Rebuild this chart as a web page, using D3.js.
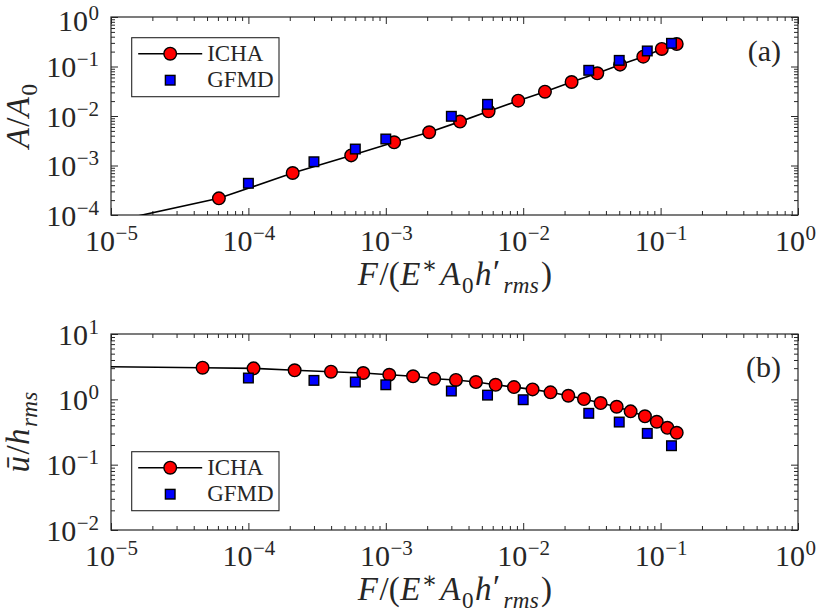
<!DOCTYPE html>
<html lang="en">
<head>
<meta charset="UTF-8">
<title>ICHA vs GFMD</title>
<script src="https://d3js.org/d3.v7.min.js"></script>
<style>
  body { margin: 0; background: #fff; }
  svg { display: block; }
</style>
</head>
<body>
<div id="chart"></div>
<script>
// panel (a): contact area vs load
const areaIchaF = [5e-6, 6.1e-5, 2.1e-4, 5.6e-4, 1.15e-3, 2.07e-3, 3.47e-3, 5.6e-3, 9.2e-3, 0.0144, 0.0225, 0.0346, 0.0507, 0.0748, 0.102, 0.131]
const areaIchaA = [4.8e-5, 2.17e-4, 7.05e-4, 1.6e-3, 2.94e-3, 4.7e-3, 7.7e-3, 0.01245, 0.0204, 0.031, 0.0486, 0.0729, 0.109, 0.158, 0.226, 0.285]
const areaGfmdF = [1e-4, 3e-4, 6e-4, 1e-3, 3e-3, 5.5e-3, 0.03, 0.05, 0.08, 0.12]
const areaGfmdA = [4.37e-4, 1.19e-3, 2.15e-3, 3.43e-3, 9.86e-3, 0.0172, 0.0838, 0.133, 0.206, 0.294]

// panel (b): mean gap vs load
const dispIchaF = [5e-6, 4.64e-5, 1.09e-4, 2.17e-4, 3.99e-4, 6.85e-4, 1.06e-3, 1.58e-3, 2.25e-3, 3.24e-3, 4.53e-3, 6.3e-3, 8.57e-3, 0.0117, 0.0158, 0.0213, 0.0277, 0.0366, 0.0479, 0.0605, 0.0769, 0.0938, 0.112, 0.131]
const dispIchaU = [3.2, 3.05, 2.98, 2.78, 2.65, 2.53, 2.38, 2.25, 2.07, 1.98, 1.84, 1.67, 1.54, 1.42, 1.28, 1.135, 1.01, 0.878, 0.77, 0.655, 0.55, 0.454, 0.367, 0.308]
const dispGfmdF = [1e-4, 3e-4, 6e-4, 1e-3, 3e-3, 5.5e-3, 0.01, 0.03, 0.05, 0.08, 0.12]
const dispGfmdU = [2.12, 1.95, 1.84, 1.67, 1.34, 1.16, 0.986, 0.611, 0.449, 0.301, 0.195]

const xTickVals = [1e-5, 1e-4, 1e-3, 1e-2, 1e-1, 1]
const areaTickVals = [1e-4, 1e-3, 1e-2, 1e-1, 1]
const dispTickVals = [1e-2, 1e-1, 1, 10]
const legendNames = ["ICHA", "GFMD"]

const width = 817, height = 615
const axisColor = "#262626"
const serif = "'Liberation Serif', 'DejaVu Serif', serif"

const svg = d3.select("#chart").append("svg")
  .attr("width", width)
  .attr("height", height)
  .attr("font-family", serif)

// minor ticks 2..9 of every decade in the domain
function minorTicks(domain) {
  let out = []
  let lo = Math.round(Math.log10(domain[0])), hi = Math.round(Math.log10(domain[1]))
  for (let e = lo; e < hi; e++)
    for (let m = 2; m <= 9; m++) out.push(m * Math.pow(10, e))
  return out
}

function expText(v) {
  let e = Math.round(Math.log10(v))
  return e < 0 ? "\u2212" + (-e) : "" + e
}

// writes a math-like label as tspans; parts: {t, i(talic), s(hift)}
function mathLabel(text, parts, size) {
  let cur = 0
  parts.forEach(p => {
    let shift = p.s === "sup" ? -0.36 * size : p.s === "sub" ? 0.24 * size : 0
    if (p.s === "prime") shift = -0.05 * size
    let small = p.s && p.s !== "prime"
    text.append("tspan")
      .attr("dy", shift - cur)
      .attr("dx", p.gap || 0)
      .attr("font-family", serif)
      .attr("font-size", small ? size * 0.7 : size)
      .attr("font-style", p.i ? "italic" : "normal")
      .attr("letter-spacing", p.i && !small ? 1.5 : 0.3)
      .text(p.t)
    cur = shift
  })
}

function drawPanel(o) {
  const x = d3.scaleLog().domain([1e-5, 1]).range([o.left, o.right])
  const y = d3.scaleLog().domain(o.yDomain).range([o.bottom, o.top])
  const g = svg.append("g")

  const clipId = "clip" + o.id
  g.append("clipPath").attr("id", clipId).append("rect")
    .attr("x", o.left).attr("y", o.top)
    .attr("width", o.right - o.left).attr("height", o.bottom - o.top)

  // ticks on all four sides, pointing in
  const sides = [
    [d3.axisBottom(x), o.bottom, "x", xTickVals],
    [d3.axisTop(x), o.top, "x", xTickVals],
    [d3.axisLeft(y), o.left, "y", o.yTicks],
    [d3.axisRight(y), o.right, "y", o.yTicks]
  ]
  sides.forEach(([ax, pos, dim, vals], k) => {
    let tr = dim === "x" ? "translate(0," + pos + ")" : "translate(" + pos + ",0)"
    let scale = dim === "x" ? x : y
    g.append("g").attr("transform", tr)
      .call(ax.tickValues(minorTicks(scale.domain())).tickSizeInner(-4).tickSizeOuter(0).tickFormat(""))
      .call(s => s.select(".domain").remove())
    let major = g.append("g").attr("transform", tr)
      .call(ax.tickValues(vals).tickSizeInner(-7).tickSizeOuter(0).tickFormat(""))
      .call(s => s.select(".domain").remove())
      .attr("font-family", serif)
    if (k === 0 || k === 2) {
      major.selectAll(".tick text").each(function (d) {
        let t = d3.select(this).text(null).attr("dy", null)
          .attr("font-family", serif).attr("font-size", 30).attr("fill", axisColor)
        if (k === 0) t.attr("y", 36).attr("text-anchor", "middle")
        else t.attr("x", -12).attr("y", 10).attr("text-anchor", "end")
        t.append("tspan").text("10")
        t.append("tspan").attr("dy", -11).attr("dx", 0.5).attr("font-size", 21).text(expText(d))
        // keep the last label inside the page like the reference
        let b = this.getBBox(), m = this.parentNode.getCTM()
        let over = m.e + b.x + b.width - (width - 1)
        if (over > 0) t.attr("x", -over)
        let top = m.f + b.y
        if (top < 1) t.attr("y", 10 + (1 - top))
      })
    }
  })
  g.selectAll(".tick line").attr("stroke", axisColor)

  g.append("rect")
    .attr("x", o.left).attr("y", o.top)
    .attr("width", o.right - o.left).attr("height", o.bottom - o.top)
    .attr("fill", "none").attr("stroke", axisColor).attr("stroke-width", 1.2)

  // data
  const plot = g.append("g").attr("clip-path", "url(#" + clipId + ")")
  const icha = d3.zip(o.ichaX, o.ichaY)
  const gfmd = d3.zip(o.gfmdX, o.gfmdY)
  plot.append("path")
    .datum(icha)
    .attr("d", d3.line().x(d => x(d[0])).y(d => y(d[1])))
    .attr("fill", "none").attr("stroke", "#000").attr("stroke-width", 1.6)
  plot.selectAll("circle").data(icha).join("circle")
    .attr("cx", d => x(d[0])).attr("cy", d => y(d[1])).attr("r", 6.3)
    .attr("fill", "#ff0000").attr("stroke", "#000").attr("stroke-width", 1.4)
  plot.selectAll("rect.sq").data(gfmd).join("rect").attr("class", "sq")
    .attr("x", d => x(d[0]) - 4.8).attr("y", d => y(d[1]) - 4.8)
    .attr("width", 9.6).attr("height", 9.6)
    .attr("fill", "#0000ff").attr("stroke", "#000").attr("stroke-width", 1.4)

  // legend
  const lg = g.append("g").attr("transform", "translate(" + (o.left + 20.7) + "," + o.legendTop + ")")
  lg.append("rect").attr("width", 147.3).attr("height", 59)
    .attr("fill", "#fff").attr("stroke", axisColor).attr("stroke-width", 1.1)
  lg.append("line").attr("x1", 6.5).attr("x2", 70.5).attr("y1", 16).attr("y2", 16)
    .attr("stroke", "#000").attr("stroke-width", 1.6)
  lg.append("circle").attr("cx", 38.5).attr("cy", 16).attr("r", 6.3)
    .attr("fill", "#ff0000").attr("stroke", "#000").attr("stroke-width", 1.4)
  lg.append("rect").attr("x", 38.5 - 4.8).attr("y", 42.5 - 4.8).attr("width", 9.6).attr("height", 9.6)
    .attr("fill", "#0000ff").attr("stroke", "#000").attr("stroke-width", 1.4)
  lg.selectAll("text").data(legendNames).join("text")
    .attr("x", 75.5).attr("y", (d, i) => i === 0 ? 23.5 : 49)
    .attr("font-family", serif).attr("fill", axisColor)
    .attr("font-size", 23).text(d => d)

  // panel tag
  g.append("text").attr("x", o.right - 17).attr("y", o.tagY)
    .attr("text-anchor", "end").attr("font-size", 30).attr("fill", axisColor).text(o.tag)

  // x label
  const xl = g.append("text").attr("x", (o.left + o.right) / 2 + 0.5).attr("y", o.bottom + 70)
    .attr("text-anchor", "middle").attr("fill", axisColor)
  mathLabel(xl, [
    {t: "F", i: true}, {t: "/("}, {t: "E", i: true}, {t: "\u2217", s: "sup"},
    {t: "A", i: true, gap: 2.5}, {t: "0", s: "sub"}, {t: "h", i: true, gap: 1}, {t: "\u2032", s: "prime"},
    {t: "rms", i: true, s: "sub", gap: 3}, {t: ")", gap: 2}
  ], 33)

  // y label
  const yl = g.append("text")
    .attr("transform", "translate(29," + ((o.top + o.bottom) / 2) + ") rotate(-90)")
    .attr("text-anchor", "middle").attr("fill", axisColor)
  mathLabel(yl, o.yLabel, 33)
}

drawPanel({
  id: "a", left: 111, right: 798, top: 17, bottom: 215,
  yDomain: [1e-4, 1], yTicks: areaTickVals,
  ichaX: areaIchaF, ichaY: areaIchaA, gfmdX: areaGfmdF, gfmdY: areaGfmdA,
  legendTop: 37.7, tag: "(a)", tagY: 61,
  yLabel: [{t: "A", i: true}, {t: "/"}, {t: "A", i: true}, {t: "0", s: "sub"}]
})

drawPanel({
  id: "b", left: 111, right: 798, top: 334, bottom: 530,
  yDomain: [1e-2, 10], yTicks: dispTickVals,
  ichaX: dispIchaF, ichaY: dispIchaU, gfmdX: dispGfmdF, gfmdY: dispGfmdU,
  legendTop: 451.7, tag: "(b)", tagY: 377,
  yLabel: [{t: "\u016B", i: true}, {t: "/"}, {t: "h", i: true}, {t: "rms", i: true, s: "sub"}]
})
</script>
</body>
</html>
